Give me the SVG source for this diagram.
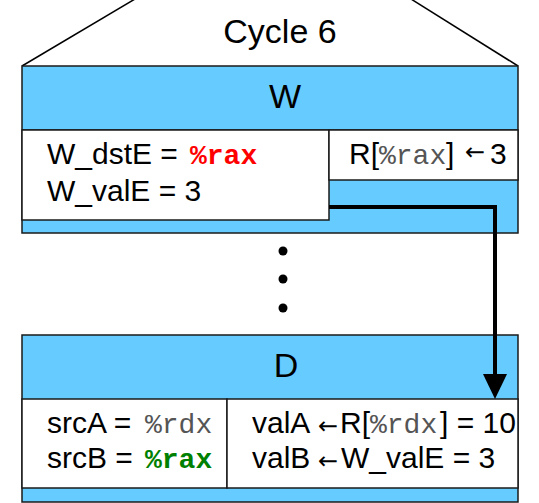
<svg xmlns="http://www.w3.org/2000/svg" width="539" height="503" viewBox="0 0 539 503">
<style>
.stage{fill:#66CCFF;stroke:#1a1a1a;stroke-width:1.5}
.cell{fill:#FFFFFF;stroke:#1a1a1a;stroke-width:1.5}
.t{font-family:"Liberation Sans",Arial,sans-serif;font-size:30px;fill:#000}
.big{font-family:"Liberation Sans",Arial,sans-serif;font-size:34px;fill:#000;text-anchor:middle}
.m{font-family:"Courier New","Liberation Mono",monospace;font-size:28px;fill:#555}
.mr{font-family:"Courier New","Liberation Mono",monospace;font-size:28px;font-weight:bold;fill:#FF0000}
.mg{font-family:"Courier New","Liberation Mono",monospace;font-size:28px;font-weight:bold;fill:#008000}
.ar{font-family:"DejaVu Sans",sans-serif;font-size:24px;fill:#000}
.conn{fill:none;stroke:#000;stroke-width:4}
</style>
<defs>
<marker id="ah" markerUnits="userSpaceOnUse" markerWidth="26" markerHeight="24" refX="4" refY="12" orient="auto">
<path d="M0,0 L25,12 L0,24 z" fill="#000"/>
</marker>
</defs>
<g id="cycle">
<line x1="22" y1="66" x2="135" y2="-1" stroke="#000" stroke-width="1.5"/>
<line x1="518" y1="66" x2="411" y2="-1" stroke="#000" stroke-width="1.5"/>
<text class="big" x="280" y="43">Cycle 6</text>
</g>
<g id="stageW">
<rect class="stage" x="22" y="66" width="496" height="167"/>
<line x1="22" y1="130" x2="518" y2="130" stroke="#1a1a1a" stroke-width="1.5"/>
<text class="big" x="285" y="108">W</text>
<rect class="cell" x="22" y="130" width="307" height="90"/>
<rect class="cell" x="329" y="130" width="189" height="50"/>
<text class="t" x="47" y="164">W_dstE = </text>
<text class="mr" x="190" y="164">%rax</text>
<text class="t" x="47" y="201">W_valE = 3</text>
<text class="t" x="349" y="164">R[</text>
<text class="m" x="379" y="164">%rax</text>
<text class="t" x="446" y="164">]</text>
<text class="ar" x="465" y="160">←</text>
<text class="t" x="490" y="164">3</text>
</g>
<g id="dots">
<circle cx="283" cy="251" r="4.5" fill="#000"/>
<circle cx="283" cy="279" r="4.5" fill="#000"/>
<circle cx="283" cy="308" r="4.5" fill="#000"/>
</g>
<g id="stageD">
<rect class="stage" x="22" y="335" width="496" height="167"/>
<text class="big" x="286" y="377">D</text>
<rect class="cell" x="22" y="399" width="205" height="89"/>
<rect class="cell" x="227" y="399" width="291" height="89"/>
<text class="t" x="47" y="433">srcA = </text>
<text class="m" x="145" y="433">%rdx</text>
<text class="t" x="47" y="468">srcB = </text>
<text class="mg" x="145" y="468">%rax</text>
<text class="t" x="252" y="433">valA</text>
<text class="ar" x="318" y="434">←</text>
<text class="t" x="340" y="433">R[</text>
<text class="m" x="370" y="433">%rdx</text>
<text class="t" x="440" y="433">] = 10</text>
<text class="t" x="252" y="468">valB</text>
<text class="ar" x="318" y="469">←</text>
<text class="t" x="341" y="468">W_valE = 3</text>
</g>
<g id="connectors">
<path class="conn" d="M329,207 H495 V378" marker-end="url(#ah)"/>
</g>
</svg>
